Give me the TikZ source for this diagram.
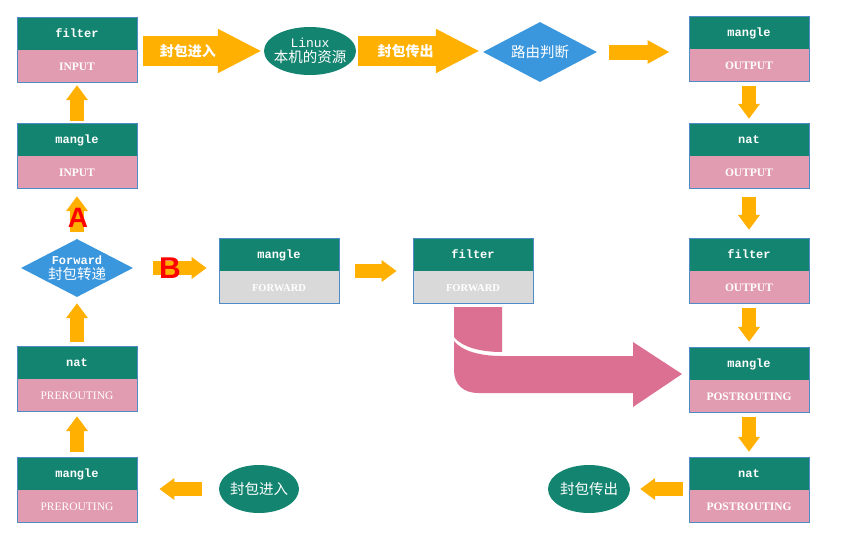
\documentclass[tikz,border=0pt]{standalone}
\usepackage{fontspec}
\setmainfont{Liberation Serif}
\newfontfamily\monofont{Liberation Mono}
\newfontfamily\cjkfont{Noto Sans CJK SC}
\newfontfamily\letterfont{Liberation Sans}
\usetikzlibrary{shapes.geometric,shapes.multipart,arrows.meta}

\definecolor{tealbox}{RGB}{19,132,112}
\definecolor{pinkbox}{RGB}{226,156,178}
\definecolor{grayfwd}{RGB}{217,217,217}
\definecolor{edgeblue}{RGB}{79,139,199}
\definecolor{orangeflow}{RGB}{255,176,0}
\definecolor{bluegate}{RGB}{58,150,221}
\definecolor{pinkturn}{RGB}{219,112,147}

\newcommand\partstrut{\rule[-12pt]{0pt}{32pt}}
\newcommand\hdfont{\monofont\bfseries\fontsize{12}{14}\selectfont}
\newcommand\lwfont{\bfseries\fontsize{11.5}{13}\selectfont}
\newcommand\boxparts[2]{\hdfont\partstrut #1\nodepart{two}\lwfont\partstrut #2}

\tikzset{
  chain/.style={rectangle split, rectangle split parts=2, rectangle split draw splits=false,
    rectangle split part fill={tealbox,pinkbox}, draw=edgeblue, line width=0.8pt,
    minimum width=120pt, inner xsep=0pt, inner ysep=0pt, text=white},
  gate/.style={diamond, fill=bluegate, inner sep=0pt},
  oval/.style={ellipse, fill=tealbox, inner sep=0pt},
  ovaltext/.style={text=white, align=center, font=\cjkfont\fontsize{14.5}{15}\selectfont},
  flow/.style={draw=orangeflow, line width=14pt, -{Triangle[length=15pt,width=21pt]}},
  bigflow/.style={draw=orangeflow, line width=30pt, -{Triangle[length=44pt,width=41pt]}},
  flowtext/.style={text=white, font=\cjkfont\bfseries\fontsize{14}{14}\selectfont},
  letter/.style={text=red, font=\letterfont\bfseries\fontsize{28}{28}\selectfont, inner sep=0pt}
}

\begin{document}
\begin{tikzpicture}[x=1pt,y=1pt,yscale=-1]
\useasboundingbox (0,0) rectangle (843,547);

% Boxes, left column
\node[chain] (fiIn) at (77,50) {\boxparts{filter}{INPUT}};
\node[chain] (maIn) at (77,156) {\boxparts{mangle}{INPUT}};
\node[gate, minimum width=112pt, minimum height=58pt,
  label={[ovaltext]center:{{\monofont\bfseries\fontsize{12}{12}\selectfont Forward}\\封包转递}}] (fwd) at (77,268) {};
\node[chain] (naPre) at (77,379) {\boxparts{nat}{\mdseries PREROUTING}};
\node[chain] (maPre) at (77,490) {\boxparts{mangle}{\mdseries PREROUTING}};
\node[oval, minimum width=80pt, minimum height=48pt,
  label={[ovaltext]center:封包进入}] (inEll) at (259,489) {};

% Top row
\node[oval, minimum width=92pt, minimum height=48pt,
  label={[ovaltext]center:{{\monofont\fontsize{13}{13}\selectfont Linux}\\本机的资源}}] (linux) at (310,51) {};
\node[gate, minimum width=114pt, minimum height=60pt,
  label={[ovaltext]center:路由判断}] (route) at (540,52) {};

% Forward row
\node[chain, rectangle split part fill={tealbox,grayfwd}] (maFwd) at (279,271)
  {\boxparts{mangle}{\fontsize{10.5}{12}\selectfont FORWARD}};
\node[chain, rectangle split part fill={tealbox,grayfwd}] (fiFwd) at (473,271)
  {\boxparts{filter}{\fontsize{10.5}{12}\selectfont FORWARD}};

% Boxes, right column
\node[chain] (maOut) at (749,49) {\boxparts{mangle}{OUTPUT}};
\node[chain] (naOut) at (749,156) {\boxparts{nat}{OUTPUT}};
\node[chain] (fiOut) at (749,271) {\boxparts{filter}{OUTPUT}};
\node[chain] (maPost) at (749,380) {\boxparts{mangle}{POSTROUTING}};
\node[chain] (naPost) at (749,490) {\boxparts{nat}{POSTROUTING}};
\node[oval, minimum width=82pt, minimum height=48pt,
  label={[ovaltext]center:封包传出}] (outEll) at (589,489) {};

% Flow arrows
\draw[flow, shorten <=17pt, shorten >=22pt] (inEll.west) -- (inEll.west -| maPre.east);
\draw[flow, shorten <=5pt, shorten >=4pt] (maPre.north) -- (naPre.south);
\draw[flow, shorten <=4pt, shorten >=6pt] (naPre.north) -- (fwd.south);
\draw[flow, shorten <=7pt, shorten >=7pt] (fwd.north) -- (maIn.south);
\draw[flow, shorten <=2pt, shorten >=2pt] (maIn.north) -- (fiIn.south);
\draw[bigflow, shorten <=6pt, shorten >=2pt] (linux.west -| fiIn.east) -- node[pos=0.4, flowtext] {封包进入} (linux.west);
\draw[bigflow, shorten <=2pt, shorten >=3pt] (linux.east) -- node[pos=0.39, flowtext] {封包传出} (linux.east -| route.west);
\draw[flow, line width=15pt, -{Triangle[length=22pt,width=22pt]}, shorten <=12pt, shorten >=19pt] (route.east) -- (route.east -| maOut.west);
\draw[flow, shorten <=4pt, shorten >=4pt] (maOut.south) -- (naOut.north);
\draw[flow, shorten <=8pt, shorten >=8pt] (naOut.south) -- (fiOut.north);
\draw[flow, shorten <=4pt, shorten >=5pt] (fiOut.south) -- (maPost.north);
\draw[flow, shorten <=4pt, shorten >=5pt] (maPost.south) -- (naPost.north);
\draw[flow, shorten <=6pt, shorten >=10pt] (outEll.east -| naPost.west) -- (outEll.east);
\draw[flow, shorten <=20pt, shorten >=12pt] (fwd.east) -- (maFwd.west |- fwd.east);
\draw[flow, shorten <=16pt, shorten >=16pt] (maFwd.east) -- (fiFwd.west);

% Turn arrow from filter FORWARD to mangle POSTROUTING
\fill[pinkturn] (454,307) -- (502,307) -- (502,352)
  .. controls (480,352) and (462,347) .. (454,337) -- cycle;
\fill[pinkturn] (454,341) .. controls (462,351) and (480,356) .. (502,356) -- (633,356)
  -- (633,342) -- (682,374) -- (633,407) -- (633,393) -- (478,393)
  .. controls (464,393) and (454,385) .. (454,370) -- cycle;

% Letters
\node[letter] (labA) at (78,218) {A};
\node[letter, font=\letterfont\bfseries\fontsize{30}{30}\selectfont] (labB) at (170,268) {B};

\end{tikzpicture}
\end{document}
